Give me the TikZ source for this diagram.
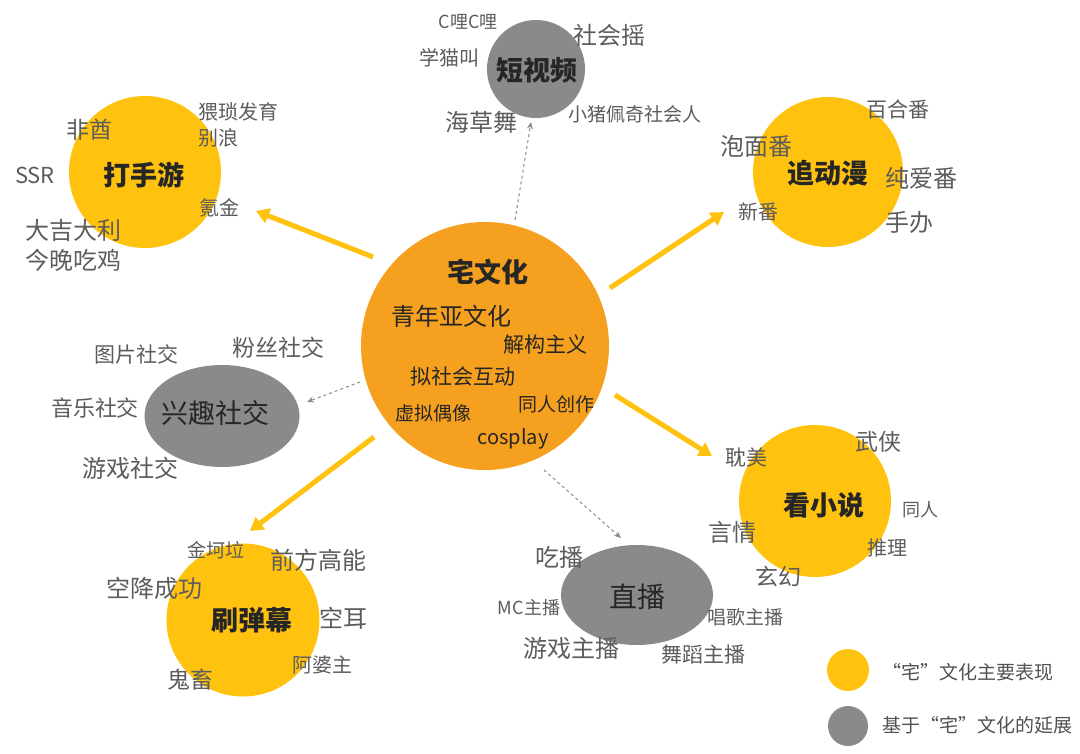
\documentclass[tikz,border=0pt]{standalone}
\usepackage{fontspec}
\setmainfont{Noto Sans CJK SC}
\usetikzlibrary{arrows.meta,shapes.geometric}
\definecolor{zhaiorange}{HTML}{F5A01E}
\definecolor{mainyellow}{HTML}{FFC20E}
\definecolor{extgrey}{HTML}{8A8A8A}
\definecolor{tagtext}{HTML}{5C5C5C}
\definecolor{hubtext}{HTML}{262626}
\newcommand\pxfont[1]{\fontsize{#1}{#1}\selectfont}
\tikzset{
	blob/.style={circle, inner sep=0pt, draw=none},
	oval/.style={ellipse, inner sep=0pt, draw=none, fill=extgrey},
	tag/.style={text=tagtext, inner sep=0pt},
	hubtag/.style={text=hubtext, inner sep=0pt, font=\bfseries\pxfont{27}},
	mainarrow/.style={line width=5pt, draw=mainyellow, -{Triangle[width=15pt,length=13pt]}},
	extarrow/.style={line width=1pt, draw=extgrey, dashed, -{Stealth[length=7pt,width=6pt]}},
}

\begin{document}
\begin{tikzpicture}[x=1pt, y=-1pt]
		%%%%% START %%%%%
		\useasboundingbox (0,0) rectangle (1080,754);
		
		% circles
		\node[blob, fill=zhaiorange, minimum size=248pt] (zhai) at (485,346) {};
		\node[blob, fill=mainyellow, minimum size=152pt] (shouyou) at (145,172) {};
		\node[blob, fill=mainyellow, minimum size=150pt] (dongman) at (828,172) {};
		\node[blob, fill=mainyellow, minimum size=152pt] (xiaoshuo) at (815,501) {};
		\node[blob, fill=mainyellow, minimum size=153pt] (danmu) at (243,620) {};
		\node[blob, fill=extgrey, minimum size=98pt] (duanshipin) at (536,69) {};
		\node[oval, minimum width=155pt, minimum height=102pt] (shejiao) at (222,416) {};
		\node[oval, minimum width=152pt, minimum height=100pt] (zhibo) at (637,595) {};
		
		% arrows
		\coordinate (s1) at (373,257); \coordinate (e1) at (256,211);
		\coordinate (s2) at (610,288); \coordinate (e2) at (724,212);
		\coordinate (s3) at (615,395); \coordinate (e3) at (712,456);
		\coordinate (s4) at (374,437); \coordinate (e4) at (250,531);
		\draw[mainarrow] (s1) -- (e1);
		\draw[mainarrow] (s2) -- (e2);
		\draw[mainarrow] (s3) -- (e3);
		\draw[mainarrow] (s4) -- (e4);
		
		\coordinate (s5) at (515,220); \coordinate (e5) at (531,122);
		\coordinate (s6) at (360,382); \coordinate (e6) at (307,402);
		\coordinate (s7) at (544,470); \coordinate (e7) at (621,538);
		\draw[extarrow] (s5) -- (e5);
		\draw[extarrow] (s6) -- (e6);
		\draw[extarrow] (s7) -- (e7);
		
		% centre
		\node[hubtag] (zhaiT) at (488,272) {宅文化};
		\node[hubtag, font=\pxfont{24}] (qingnian) at (451,316) {青年亚文化};
		\node[hubtag, font=\pxfont{21}] (jiegou) at (545,345) {解构主义};
		\node[hubtag, font=\pxfont{21}] (nishehui) at (463,376) {拟社会互动};
		\node[hubtag, font=\pxfont{19}] (tongrenC) at (556,404) {同人创作};
		\node[hubtag, font=\pxfont{19}] (xuni) at (433,413) {虚拟偶像};
		\node[hubtag, font=\pxfont{20}] (cosplay) at (513,439) {cosplay};
		
		% 打手游
		\node[hubtag] (shouyouT) at (144,175) {打手游};
		\node[tag, font=\pxfont{23}] (feiqiu) at (89,130) {非酋};
		\node[tag, font=\pxfont{20}] (weisuo) at (238,112) {猥琐发育};
		\node[tag, font=\pxfont{20}] (bielang) at (218,138) {别浪};
		\node[tag, font=\pxfont{22}] (ssr) at (35,175) {SSR};
		\node[tag, font=\pxfont{20}] (kejin) at (219,208) {氪金};
		\node[tag, font=\pxfont{24}, anchor=west] (daji) at (25,230) {大吉大利};
		\node[tag, font=\pxfont{24}, anchor=west] (chiji) at (25,260) {今晚吃鸡};
		
		% 短视频
		\node[hubtag] (duanshipinT) at (537,70) {短视频};
		\node[tag, font=\pxfont{18}] (cili) at (468,22) {C哩C哩};
		\node[tag, font=\pxfont{20}] (xuemao) at (449,58) {学猫叫};
		\node[tag, font=\pxfont{24}] (shehuiyao) at (609,35) {社会摇};
		\node[tag, font=\pxfont{24}] (haicao) at (481,122) {海草舞};
		\node[tag, font=\pxfont{19}] (peiqi) at (635,114) {小猪佩奇社会人};
		
		% 追动漫
		\node[hubtag] (dongmanT) at (828,173) {追动漫};
		\node[tag, font=\pxfont{21}] (baihe) at (898,110) {百合番};
		\node[tag, font=\pxfont{24}] (paomian) at (756,146) {泡面番};
		\node[tag, font=\pxfont{24}] (chunai) at (921,178) {纯爱番};
		\node[tag, font=\pxfont{20}] (xinfan) at (758,212) {新番};
		\node[tag, font=\pxfont{24}] (shouban) at (909,222) {手办};
		
		% 兴趣社交
		\node[hubtag, font=\pxfont{27}\mdseries] (shejiaoT) at (215,413) {兴趣社交};
		\node[tag, font=\pxfont{21}] (tupian) at (136,354) {图片社交};
		\node[tag, font=\pxfont{23}] (fensi) at (278,348) {粉丝社交};
		\node[tag, font=\pxfont{22}] (yinyue) at (95,408) {音乐社交};
		\node[tag, font=\pxfont{24}] (youxiS) at (130,468) {游戏社交};
		
		% 刷弹幕
		\node[hubtag] (danmuT) at (252,620) {刷弹幕};
		\node[tag, font=\pxfont{19}] (jinkela) at (216,550) {金坷垃};
		\node[tag, font=\pxfont{24}] (qianfang) at (318,560) {前方高能};
		\node[tag, font=\pxfont{24}] (kongjiang) at (154,588) {空降成功};
		\node[tag, font=\pxfont{24}] (konger) at (343,618) {空耳};
		\node[tag, font=\pxfont{20}] (apozhu) at (322,665) {阿婆主};
		\node[tag, font=\pxfont{23}] (guichu) at (190,680) {鬼畜};
		
		% 直播
		\node[hubtag, font=\pxfont{28}\mdseries] (zhiboT) at (637,597) {直播};
		\node[tag, font=\pxfont{24}] (chibo) at (559,557) {吃播};
		\node[tag, font=\pxfont{18}] (mc) at (529,608) {MC主播};
		\node[tag, font=\pxfont{19}] (changge) at (745,617) {唱歌主播};
		\node[tag, font=\pxfont{24}] (youxiZ) at (571,648) {游戏主播};
		\node[tag, font=\pxfont{21}] (wudao) at (703,655) {舞蹈主播};
		
		% 看小说
		\node[hubtag] (xiaoshuoT) at (824,505) {看小说};
		\node[tag, font=\pxfont{23}] (wuxia) at (878,442) {武侠};
		\node[tag, font=\pxfont{21}] (danmei) at (746,457) {耽美};
		\node[tag, font=\pxfont{18}] (tongrenX) at (920,510) {同人};
		\node[tag, font=\pxfont{24}] (yanqing) at (732,532) {言情};
		\node[tag, font=\pxfont{20}] (tuili) at (887,548) {推理};
		\node[tag, font=\pxfont{23}] (xuanhuan) at (778,577) {玄幻};
		
		% legend
		\node[blob, fill=mainyellow, minimum size=42pt] (keyMain) at (848,670) {};
		\node[blob, fill=extgrey, minimum size=40pt] (keyExt) at (848,726) {};
		\node[tag, font=\pxfont{19}, anchor=west, text=hubtext!80] (keyMainT) at (882,672) {“宅”文化主要表现};
		\node[tag, font=\pxfont{19}, anchor=west, text=hubtext!80] (keyExtT) at (882,725) {基于“宅”文化的延展};
		
		%%%%% END %%%%%
	\end{tikzpicture}
\end{document}
